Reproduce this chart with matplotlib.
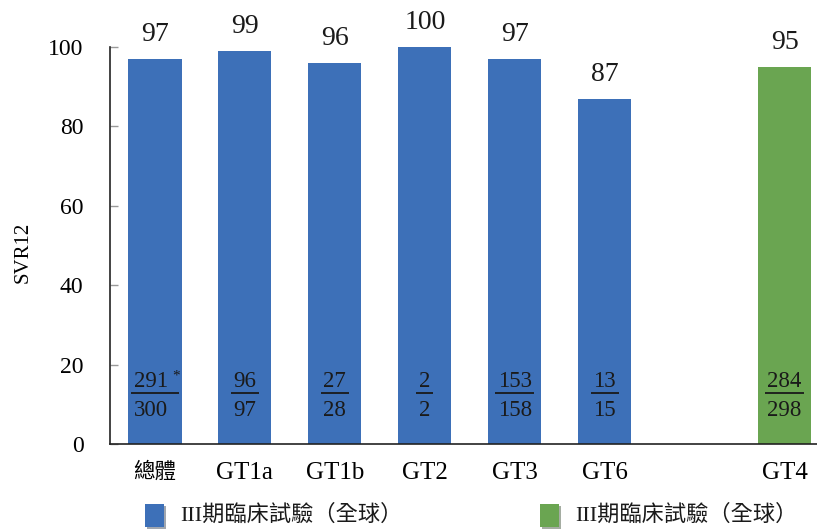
import matplotlib
matplotlib.use("Agg")
import matplotlib.pyplot as plt
from matplotlib.patches import Rectangle
import matplotlib.patheffects as pe

plt.rcParams['font.family'] = ['Liberation Serif', 'Noto Sans CJK TC']

categories = ['總體', 'GT1a', 'GT1b', 'GT2', 'GT3', 'GT6', 'GT4']
positions = [0, 1, 2, 3, 4, 5, 7]
svr12 = [97, 99, 96, 100, 97, 87, 95]
numerators = ['291', '96', '27', '2', '153', '13', '284']
denominators = ['300', '97', '28', '2', '158', '15', '298']
groups = ['blue', 'blue', 'blue', 'blue', 'blue', 'blue', 'green']
legend_labels = ['III期臨床試驗（全球）', 'III期臨床試驗（全球）']
yticks = [0, 20, 40, 60, 80, 100]

BLUE = '#3D70B8'
GREEN = '#6AA551'
colors = [BLUE if g == 'blue' else GREEN for g in groups]

fig = plt.figure(figsize=(8.17, 5.29), dpi=100)
W, H = 817, 529
ax = fig.add_axes([110 / W, (H - 444) / H, (W - 110) / W, (444 - 47) / H])

ax.bar(positions, svr12, width=0.59, color=colors, edgecolor='none', zorder=2)

ax.set_xlim(-0.5, 7.36)
ax.set_ylim(0, 100)
ax.set_yticks(yticks)
ax.set_yticklabels([str(t) for t in yticks], fontsize=17)
ax.set_xticks(positions)
ax.set_xticklabels(categories, fontsize=18)
ax.tick_params(axis='y', direction='in', length=6, width=1, color='#999999', pad=19)
ax.tick_params(axis='x', length=0, pad=13)
for lab in ax.get_xticklabels():
    if lab.get_text() == '總體':
        lab.set_fontsize(15.5)
for s in ['top', 'right']:
    ax.spines[s].set_visible(False)
for s in ['left', 'bottom']:
    ax.spines[s].set_color('#222222')
    ax.spines[s].set_linewidth(1.2)

# value labels
for x, v in zip(positions, svr12):
    ax.annotate(str(v), (x, v), xytext=(0, 13), textcoords='offset points',
                ha='center', va='baseline', fontsize=20, color='#1a1a1a')

# fraction labels
for i, (x, n, d) in enumerate(zip(positions, numerators, denominators)):
    nd = max(len(n), len(d))
    w = (6 + 11 * nd) / 90.0
    shift = 0
    if i == 0:
        shift = -0.045
        ax.annotate('*', (x + shift, 15.7), xytext=(15, 4), textcoords='offset points',
                    ha='left', va='center', fontsize=11, color='#1a1a1a')
        ax.hlines(12.8, x + shift - w / 2, x + shift + w / 2 + 0.1, color='#1a1a1a', lw=1.3, zorder=3)
    else:
        ax.hlines(12.8, x - w / 2, x + w / 2, color='#1a1a1a', lw=1.3, zorder=3)
    ax.text(x + shift, 15.7, n, ha='center', va='center', fontsize=16.5, color='#1a1a1a', zorder=3)
    ax.text(x + shift, 8.4, d, ha='center', va='center', fontsize=16.5, color='#1a1a1a', zorder=3)

fig.text(23 / W, 1 - 252 / H, 'SVR12', rotation=90, ha='center', va='center', fontsize=15)

# legend
for (sx, tx, col, lab) in [(145, 180, BLUE, legend_labels[0]), (540, 575, GREEN, legend_labels[1])]:
    rect = Rectangle((sx / W, 1 - 527 / H), 19 / W, 23 / H, transform=fig.transFigure,
                     facecolor=col, edgecolor='none',
                     path_effects=[pe.SimplePatchShadow(offset=(1.5, -1.5), alpha=0.4), pe.Normal()])
    fig.patches.append(rect)
    fig.text(tx / W, 1 - 515 / H, lab, ha='left', va='center', fontsize=16, color='#1a1a1a')

fig.savefig('out.png', dpi=100)
